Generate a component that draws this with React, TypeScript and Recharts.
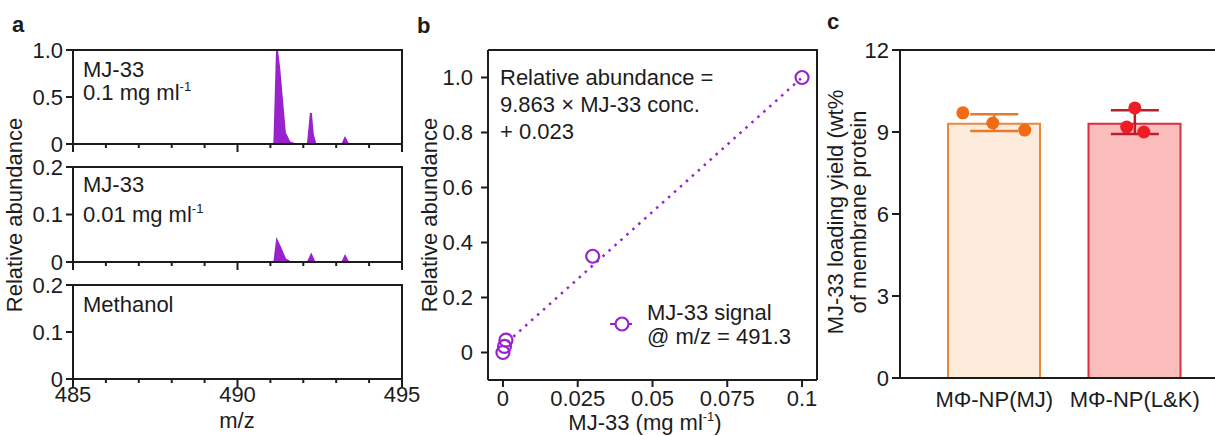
import React from 'react';
import {
  ComposedChart,
  Area,
  XAxis,
  YAxis,
  Scatter,
  Line,
  Bar,
  Cell,
  ErrorBar,
  Legend,
} from 'recharts';

const FONT = '"Liberation Sans", Arial, Helvetica, sans-serif';
const INK = '#1c1c1c';
const PURPLE = '#9a22cc';
const FS = 22;

// ---------- Panel a: mass spectra ----------
const aXTicks = [485, 486, 487, 488, 489, 490, 491, 492, 493, 494, 495];
const aXMajor = [485, 490, 495];
const aYTicksTop = [0, 0.5, 1.0];
const aYTicksLow = [0, 0.1, 0.2];

const mzHigh = [485, 491.12, 491.2, 491.27, 491.44, 491.58, 491.72, 492.14, 492.23, 492.29, 492.37, 493.19, 493.27, 493.36, 495];
const relHigh = [0, 0, 1.0, 0.8, 0.12, 0.02, 0, 0, 0.33, 0.1, 0, 0, 0.06, 0, 0];
const mzLow = [485, 491.12, 491.2, 491.3, 491.45, 491.6, 492.14, 492.24, 492.34, 493.19, 493.27, 493.36, 495];
const relLow = [0, 0, 0.045, 0.03, 0.006, 0, 0, 0.015, 0, 0, 0.012, 0, 0];
const mzMeth = [485, 495];
const relMeth = [0, 0];

// ---------- Panel b: calibration ----------
const bXDomain: [number, number] = [-0.005, 0.105];
const bYDomain: [number, number] = [-0.1, 1.1];
const bXTicks = [0, 0.025, 0.05, 0.075, 0.1];
const bXTickLabels = ['0', '0.025', '0.05', '0.075', '0.1'];
const bYTicks = [0, 0.2, 0.4, 0.6, 0.8, 1.0];
const bYTickLabels = ['0', '0.2', '0.4', '0.6', '0.8', '1.0'];
const concB = [0, 0.0005, 0.001, 0.03, 0.1];
const signalB = [0, 0.022, 0.045, 0.35, 1.0];
const fitConc = [0.0015, 0.1];
const fitSignal = [0.038, 1.0];

// ---------- Panel c: loading yield ----------
const groupsC = ['MΦ-NP(MJ)', 'MΦ-NP(L&K)'];
const meanC = [9.3, 9.3];
const errLowC = [0.26, 0.37];
const errHighC = [0.35, 0.5];
const dotsMJ = [9.7, 9.33, 9.07];
const jitterMJ = [-0.223, -0.01, 0.217];
const dotsLK = [9.88, 9.18, 9.0];
const jitterLK = [0, -0.058, 0.064];
const cYTicks = [0, 3, 6, 9, 12];
const cXDomain: [number, number] = [-0.17, 2.07];

const MJ_FILL = '#fdecdc';
const MJ_STROKE = '#e8893e';
const MJ_DOT = '#f26b12';
const MJ_ERR = '#e57a2c';
const LK_FILL = '#fbbcbc';
const LK_STROKE = '#d8303c';
const LK_DOT = '#ee1c24';
const LK_ERR = '#b81f2c';

const AXIS_LINE = { stroke: INK, strokeWidth: 2 };

// ---------- layout (plot boxes, page pixels) ----------
const A_LEFT = 0;
const A_W = 420;
const A_YAXIS_W = 73;
const A_RIGHT_M = 18;
const A_PLOTS = [
  { top: 50, h: 94 },
  { top: 167, h: 95 },
  { top: 285, h: 94 },
];
const B_LEFT = 420;
const B_W = 410;
const B_YAXIS_W = 68;
const B_RIGHT_M = 13;
const B_TOP = 50;
const B_H = 436;
const B_XAXIS_H = 56;
const C_LEFT = 820;
const C_W = 395;
const C_YAXIS_W = 80;
const C_TOP = 50;

// ---------- tick helpers ----------
function makeBottomTick(len: (v: number) => number, label: (v: number) => string | null, off: number) {
  return (p: any) => {
    const v = p.payload.value;
    const L = len(v);
    const lab = label(v);
    return (
      <g>
        {L > 0 && <line x1={p.x} x2={p.x} y1={p.y} y2={p.y + L} stroke={INK} strokeWidth={2} />}
        {lab != null && (
          <text x={p.x} y={p.y + off} textAnchor="middle" fontSize={FS} fill={INK} fontFamily={FONT}>
            {lab}
          </text>
        )}
      </g>
    );
  };
}

function makeLeftTick(len: number, gap: number, label: (v: number) => string) {
  return (p: any) => {
    const v = p.payload.value;
    return (
      <g>
        <line x1={p.x - len} x2={p.x} y1={p.y} y2={p.y} stroke={INK} strokeWidth={2} />
        <text x={p.x - len - gap} y={p.y} dy="0.36em" textAnchor="end" fontSize={FS} fill={INK} fontFamily={FONT}>
          {label(v)}
        </text>
      </g>
    );
  };
}

const fmt1 = (v: number) => (v === 0 ? '0' : v.toFixed(1));

function SpecPlot(props: { mz: number[]; rel: number[]; yMax: number; yTicks: number[]; plotTop: number; plotH: number; last: boolean }) {
  const { mz, rel, yMax, yTicks, plotTop, plotH, last } = props;
  const data = mz.map((m, i) => ({ mz: m, v: rel[i] }));
  const mt = 14;
  const xh = last ? 57 : 14;
  return (
    <div style={{ position: 'absolute', left: A_LEFT, top: plotTop - mt }}>
      <ComposedChart width={A_W} height={mt + plotH + xh} data={data} margin={{ top: mt, right: A_RIGHT_M, bottom: 0, left: 0 }}>
        <XAxis
          dataKey="mz"
          type="number"
          domain={[485, 495]}
          ticks={aXTicks}
          interval={0}
          allowDataOverflow
          tickSize={0}
          tickMargin={0}
          tickLine={false}
          axisLine={AXIS_LINE}
          height={xh}
          tick={makeBottomTick(
            (v) => (aXMajor.includes(v) ? 8 : 4),
            (v) => (last && aXMajor.includes(v) ? String(v) : null),
            23
          )}
        />
        <YAxis
          type="number"
          domain={[0, yMax]}
          ticks={yTicks}
          interval={0}
          allowDataOverflow
          tickSize={0}
          tickMargin={0}
          tickLine={false}
          axisLine={AXIS_LINE}
          width={A_YAXIS_W}
          tick={makeLeftTick(7, 3, fmt1)}
        />
        <Area
          type="linear"
          dataKey="v"
          stroke={PURPLE}
          strokeWidth={2}
          fill={PURPLE}
          fillOpacity={1}
          dot={false}
          activeDot={false}
          isAnimationActive={false}
        />
      </ComposedChart>
    </div>
  );
}

function PanelB() {
  const pts = concB.map((c, i) => ({ x: c, y: signalB[i] }));
  const fit = fitConc.map((c, i) => ({ x: c, y: fitSignal[i] }));
  return (
    <div style={{ position: 'absolute', left: B_LEFT, top: 0 }}>
      <ComposedChart width={B_W} height={B_H} margin={{ top: B_TOP, right: B_RIGHT_M, bottom: 0, left: 0 }}>
        <XAxis
          dataKey="x"
          type="number"
          domain={bXDomain}
          ticks={bXTicks}
          interval={0}
          allowDataOverflow
          tickSize={0}
          tickMargin={0}
          tickLine={false}
          axisLine={AXIS_LINE}
          height={B_XAXIS_H}
          tick={makeBottomTick(() => 7, (v) => bXTickLabels[bXTicks.indexOf(v)] ?? null, 26)}
        />
        <YAxis
          dataKey="y"
          type="number"
          domain={bYDomain}
          ticks={bYTicks}
          interval={0}
          allowDataOverflow
          tickSize={0}
          tickMargin={0}
          tickLine={false}
          axisLine={AXIS_LINE}
          width={B_YAXIS_W}
          tick={makeLeftTick(7, 8, (v) => bYTickLabels[bYTicks.indexOf(v)] ?? '')}
        />
        <Line
          data={fit}
          dataKey="y"
          type="linear"
          stroke={PURPLE}
          strokeWidth={2.5}
          strokeDasharray="2.5 5.5"
          dot={false}
          activeDot={false}
          isAnimationActive={false}
          legendType="none"
        />
        <Scatter
          data={pts}
          dataKey="y"
          isAnimationActive={false}
          shape={(p: any) => <circle cx={p.cx} cy={p.cy} r={6.5} fill="none" stroke={PURPLE} strokeWidth={2.2} />}
        />
        <Legend
          layout="vertical"
          align="center"
          verticalAlign="middle"
          wrapperStyle={{ left: 186, top: 297, width: 220, height: 56 }}
          content={() => (
            <svg width={220} height={56} style={{ display: 'block' }}>
              <line x1={4} x2={26} y1={27} y2={27} stroke={PURPLE} strokeWidth={2} />
              <circle cx={16} cy={27} r={6.5} fill="#fff" stroke={PURPLE} strokeWidth={2.2} />
              <text x={41} y={23} fontSize={FS} fill={INK} fontFamily={FONT}>MJ-33 signal</text>
              <text x={41} y={47} fontSize={FS} fill={INK} fontFamily={FONT}>@ m/z = 491.3</text>
            </svg>
          )}
        />
      </ComposedChart>
    </div>
  );
}

function PanelC() {
  const bars = groupsC.map((g, i) => ({ group: g, y: meanC[i] }));
  const errMJ = [{ x: 0.5, y: meanC[0], err: [errLowC[0], errHighC[0]] }];
  const errLK = [{ x: 1.5, y: meanC[1], err: [errLowC[1], errHighC[1]] }];
  const ptsMJ = dotsMJ.map((v, i) => ({ x: 0.5 + jitterMJ[i], y: v }));
  const ptsLK = dotsLK.map((v, i) => ({ x: 1.5 + jitterLK[i], y: v }));
  const fills = [MJ_FILL, LK_FILL];
  const strokes = [MJ_STROKE, LK_STROKE];
  const pad = { left: 24, right: 10 };
  return (
    <div style={{ position: 'absolute', left: C_LEFT, top: 0 }}>
      <ComposedChart width={C_W} height={436} data={bars} margin={{ top: C_TOP, right: 0, bottom: 0, left: 0 }}>
        <XAxis
          xAxisId="cat"
          dataKey="group"
          type="category"
          padding={pad}
          interval={0}
          tickSize={0}
          tickMargin={0}
          tickLine={false}
          axisLine={AXIS_LINE}
          height={58}
          tick={makeBottomTick(() => 0, (v: any) => String(v), 29) as any}
        />
        <XAxis xAxisId="num" dataKey="x" type="number" domain={cXDomain} hide allowDataOverflow />
        <YAxis
          dataKey="y"
          type="number"
          domain={[0, 12]}
          ticks={cYTicks}
          interval={0}
          allowDataOverflow
          tickSize={0}
          tickMargin={0}
          tickLine={false}
          axisLine={AXIS_LINE}
          width={C_YAXIS_W}
          tick={makeLeftTick(8, 3, (v) => String(v))}
        />
        <Bar xAxisId="cat" dataKey="y" barSize={92} strokeWidth={2} isAnimationActive={false}>
          {bars.map((b, i) => (
            <Cell key={b.group} fill={fills[i]} stroke={strokes[i]} />
          ))}
        </Bar>
        <Scatter xAxisId="num" data={errMJ} dataKey="y" isAnimationActive={false} shape={() => <g />}>
          <ErrorBar dataKey="err" direction="y" width={24} stroke={MJ_ERR} strokeWidth={2.5} />
        </Scatter>
        <Scatter xAxisId="num" data={errLK} dataKey="y" isAnimationActive={false} shape={() => <g />}>
          <ErrorBar dataKey="err" direction="y" width={24} stroke={LK_ERR} strokeWidth={2.5} />
        </Scatter>
        <Scatter
          xAxisId="num"
          data={ptsMJ}
          dataKey="y"
          isAnimationActive={false}
          shape={(p: any) => <circle cx={p.cx} cy={p.cy} r={6.5} fill={MJ_DOT} />}
        />
        <Scatter
          xAxisId="num"
          data={ptsLK}
          dataKey="y"
          isAnimationActive={false}
          shape={(p: any) => <circle cx={p.cx} cy={p.cy} r={6.5} fill={LK_DOT} />}
        />
      </ComposedChart>
    </div>
  );
}

const T = (p: { x: number; y: number; children: React.ReactNode; anchor?: string; rot?: boolean; bold?: boolean }) => (
  <text
    x={p.x}
    y={p.y}
    fontSize={FS}
    fill={INK}
    fontFamily={FONT}
    fontWeight={p.bold ? 700 : 400}
    textAnchor={(p.anchor as any) || 'start'}
    transform={p.rot ? `rotate(-90 ${p.x} ${p.y})` : undefined}
  >
    {p.children}
  </text>
);

const Sup = ({ children }: { children: React.ReactNode }) => (
  <tspan dy={-9} fontSize={13}>
    {children}
  </tspan>
);

// box outlines (top + right edges) derived from the chart layout constants
const aPlotL = A_LEFT + A_YAXIS_W;
const aPlotR = A_LEFT + A_W - A_RIGHT_M;
const bPlotL = B_LEFT + B_YAXIS_W;
const bPlotR = B_LEFT + B_W - B_RIGHT_M;
const bPlotB = B_H - B_XAXIS_H;
const cPlotL = C_LEFT + C_YAXIS_W;
const cPlotR = C_LEFT + C_W;

export default function App() {
  return (
    <div
      style={{
        position: 'fixed',
        left: 0,
        top: 0,
        width: 1215,
        height: 436,
        background: '#fff',
        overflow: 'hidden',
        fontFamily: FONT,
      }}
    >
      <SpecPlot mz={mzHigh} rel={relHigh} yMax={1.0} yTicks={aYTicksTop} plotTop={A_PLOTS[0].top} plotH={A_PLOTS[0].h} last={false} />
      <SpecPlot mz={mzLow} rel={relLow} yMax={0.2} yTicks={aYTicksLow} plotTop={A_PLOTS[1].top} plotH={A_PLOTS[1].h} last={false} />
      <SpecPlot mz={mzMeth} rel={relMeth} yMax={0.2} yTicks={aYTicksLow} plotTop={A_PLOTS[2].top} plotH={A_PLOTS[2].h} last={true} />
      <PanelB />
      <PanelC />
      <svg width={1215} height={436} style={{ position: 'absolute', left: 0, top: 0, pointerEvents: 'none' }}>
        {A_PLOTS.map((p, i) => (
          <path key={i} d={`M${aPlotL} ${p.top} H${aPlotR} V${p.top + p.h}`} fill="none" stroke={INK} strokeWidth={2} />
        ))}
        <path d={`M${bPlotL} ${B_TOP} H${bPlotR} V${bPlotB}`} fill="none" stroke={INK} strokeWidth={2} />
        <path d={`M${cPlotL} ${C_TOP} H${cPlotR}`} fill="none" stroke={INK} strokeWidth={2} />

        <T x={12} y={32} bold>a</T>
        <T x={417} y={33} bold>b</T>
        <T x={827} y={29} bold>c</T>

        <T x={22} y={215} anchor="middle" rot>Relative abundance</T>
        <T x={237} y={428} anchor="middle">m/z</T>
        <T x={83} y={77}>MJ-33</T>
        <T x={83} y={100}>0.1 mg ml<Sup>-1</Sup></T>
        <T x={83} y={192}>MJ-33</T>
        <T x={83} y={222}>0.01 mg ml<Sup>-1</Sup></T>
        <T x={83} y={312}>Methanol</T>

        <T x={437} y={215} anchor="middle" rot>Relative abundance</T>
        <T x={645} y={430} anchor="middle">MJ-33 (mg ml<Sup>-1</Sup><tspan dy={9}>)</tspan></T>
        <T x={500} y={85}>Relative abundance =</T>
        <T x={500} y={112}>9.863 × MJ-33 conc.</T>
        <T x={500} y={139}>+ 0.023</T>

        <T x={843} y={212} anchor="middle" rot>MJ-33 loading yield (wt%</T>
        <T x={866} y={212} anchor="middle" rot>of membrane protein</T>
      </svg>
    </div>
  );
}
